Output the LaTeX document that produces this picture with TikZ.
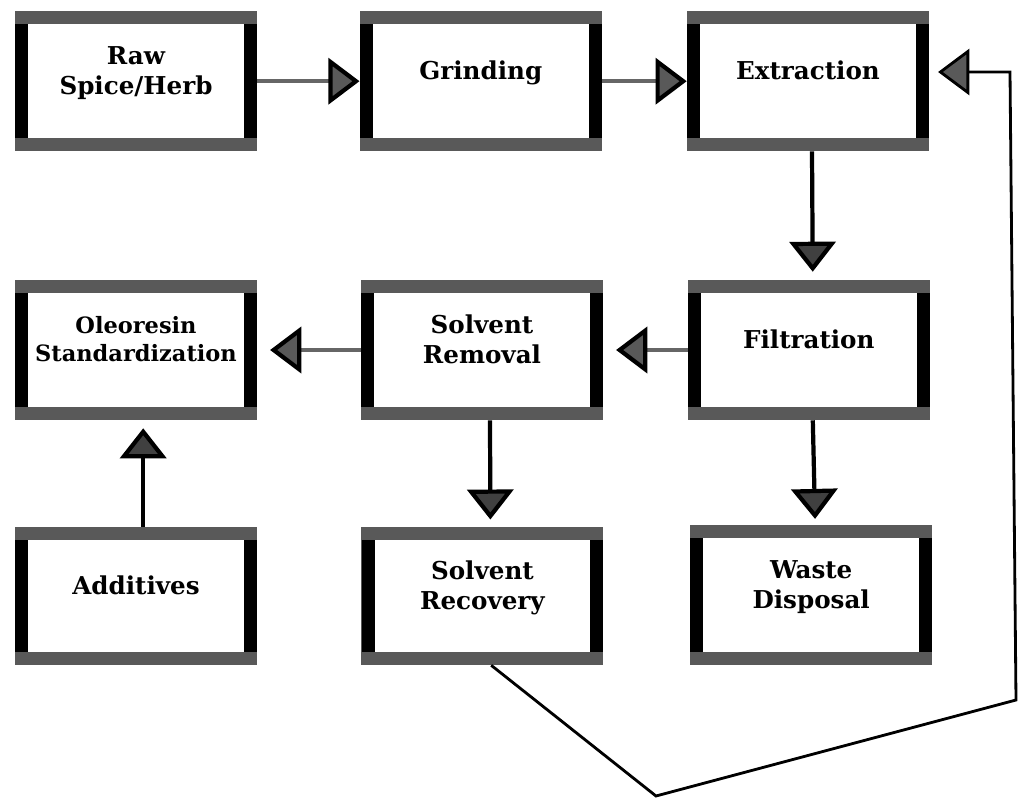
\documentclass[tikz,border=0pt]{standalone}
\usepackage{fontspec}
\setmainfont{DejaVu Serif}
\usetikzlibrary{arrows.meta}
\begin{document}
\begin{tikzpicture}[
  every node/.style={font=\bfseries\fontsize{17.5}{21.5}\selectfont},
  stage/.style={rectangle,fill=white,minimum width=6.05cm,minimum height=3.5cm,align=center,text depth=0.55cm,
    path picture={
      \fill[black] (path picture bounding box.south west) rectangle ([xshift=0.33cm]path picture bounding box.north west);
      \fill[black] ([xshift=-0.33cm]path picture bounding box.south east) rectangle (path picture bounding box.north east);
      \fill[black!65] ([yshift=-0.33cm]path picture bounding box.north west) rectangle (path picture bounding box.north east);
      \fill[black!65] (path picture bounding box.south west) rectangle ([yshift=0.33cm]path picture bounding box.south east);
    }},
  hflow/.style={line width=3pt,black!60,-{Triangle[length=0.78cm,width=1.15cm,color=black,fill=black!65]}},
  vflow/.style={line width=3pt,black,-{Triangle[length=0.75cm,width=1.15cm,color=black,fill=black!75]}}]
\useasboundingbox (0,0) rectangle (25.45,-19.95);
% top row
\node[stage] (raw) at (3.40,-2.03) {Raw\\Spice/Herb};
\node[stage] (grind) at (12.02,-2.03) {Grinding};
\node[stage] (extr) at (20.20,-2.03) {Extraction};
% middle row
\node[stage,font=\bfseries\fontsize{16}{19.5}\selectfont] (oleo) at (3.40,-8.75) {Oleoresin\\Standardization};
\node[stage] (srem) at (12.05,-8.75) {Solvent\\Removal};
\node[stage] (filt) at (20.22,-8.75) {Filtration};
% bottom row
\node[stage,minimum height=3.45cm] (addv) at (3.40,-14.90) {Additives};
\node[stage,minimum height=3.45cm] (srec) at (12.06,-14.90) {Solvent\\Recovery};
\node[stage,minimum height=3.5cm] (waste) at (20.28,-14.88) {Waste\\Disposal};
% flow
\draw[hflow] (raw) -- (grind);
\draw[hflow] (grind) -- (extr);
\draw[vflow,shorten >=0.2cm] ([xshift=0.1cm]extr.south) -- ([xshift=0.1cm]filt.north);
\draw[vflow,shorten >=0.15cm] ([xshift=0.1cm]filt.south) -- ([xshift=0.1cm]waste.north);
\draw[hflow,shorten >=0.32cm] (filt) -- (srem);
\draw[hflow,shorten >=0.32cm] (srem) -- (oleo);
\draw[vflow,shorten >=0.18cm] ([xshift=0.2cm]srem.south) -- ([xshift=0.2cm]srec.north);
\draw[vflow,shorten >=0.2cm] ([xshift=0.18cm]addv.north) -- ([xshift=0.18cm]oleo.south);
% solvent recycle
\coordinate (low) at (16.40,-19.90);
\coordinate (rgt) at (25.40,-17.50);
\coordinate (top) at (25.25,-1.80);
\draw[line width=2pt,-{Triangle[length=0.78cm,width=1.15cm,color=black,fill=black!65]},shorten >=0.22cm]
  ([xshift=0.22cm]srec.south) -- (low) -- (rgt) -- (top) -- (top -| extr.east);
\end{tikzpicture}
\end{document}
